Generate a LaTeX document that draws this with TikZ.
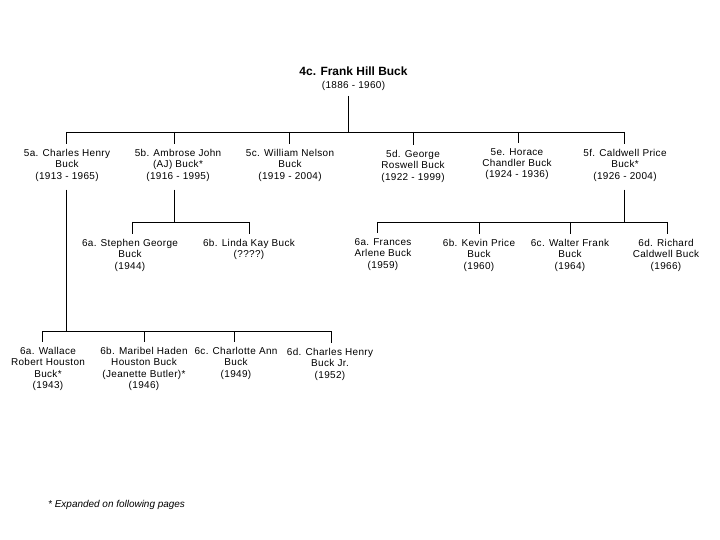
\documentclass[tikz,border=0pt]{standalone}
\usepackage{fontspec}
\setmainfont{Liberation Sans}
\newfontfamily\spacedfont[LetterSpace=3.5]{Liberation Sans}
\begin{document}
\begin{tikzpicture}[x=1bp,y=-1bp,
  person/.style={font=\spacedfont\fontsize{10}{11.5}\selectfont, align=center, inner xsep=0pt, inner ysep=5pt, anchor=north},
  link/.style={draw=black, line width=0.8pt}]
\useasboundingbox (0,0) rectangle (720,540);
% title
\node[font=\fontsize{12}{14}\selectfont\bfseries, inner sep=0pt] (t) at (353.5,71) {4c. Frank Hill Buck};
\node[font=\spacedfont\fontsize{10}{12}\selectfont, inner sep=0pt] (td) at (353.5,86) {(1886 - 1960)};
% generation 5
\node[person] (n5a) at (67,144) {5a. Charles Henry\\Buck\\(1913 - 1965)};
\node[person] (n5b) at (178,144) {5b. Ambrose John\\(AJ) Buck*\\(1916 - 1995)};
\node[person] (n5c) at (290,144) {5c. William Nelson\\Buck\\(1919 - 2004)};
\node[person] (n5d) at (413,145) {5d. George\\Roswell Buck\\(1922 - 1999)};
\node[person] (n5e) at (517,143) {5e. Horace\\Chandler Buck\\(1924 - 1936)};
\node[person] (n5f) at (625,144) {5f. Caldwell Price\\Buck*\\(1926 - 2004)};
% generation 6 under 5b
\node[person] (s6a) at (130,234) {6a. Stephen George\\Buck\\(1944)};
\node[person] (s6b) at (249,234) {6b. Linda Kay Buck\\(????)};
% generation 6 under 5f
\node[person] (p6a) at (383,233) {6a. Frances\\Arlene Buck\\(1959)};
\node[person] (p6b) at (479,234) {6b. Kevin Price\\Buck\\(1960)};
\node[person] (p6c) at (570,234) {6c. Walter Frank\\Buck\\(1964)};
\node[person] (p6d) at (666,234) {6d. Richard\\Caldwell Buck\\(1966)};
% generation 6 under 5a
\node[person] (w6a) at (48,342) {6a. Wallace\\Robert Houston\\Buck*\\(1943)};
\node[person] (w6b) at (144,342) {6b. Maribel Haden\\Houston Buck\\(Jeanette Butler)*\\(1946)};
\node[person] (w6c) at (236,342) {6c. Charlotte Ann\\Buck\\(1949)};
\node[person] (w6d) at (330,343) {6d. Charles Henry\\Buck Jr.\\(1952)};
% footnote
\node[font=\fontsize{10}{12}\selectfont\itshape, anchor=west, inner sep=0pt] (fn) at (48,505) {* Expanded on following pages};
% junction coordinates
\coordinate (j0) at (348,96);
\coordinate (b0) at (348,132);
\coordinate (d5a) at (66,132);
\coordinate (d5b) at (174,132);
\coordinate (d5c) at (289,132);
\coordinate (d5d) at (413,132);
\coordinate (d5e) at (518,132);
\coordinate (d5f) at (624,132);
\coordinate (k5a) at (66,331);
\coordinate (k5b) at (174,222);
\coordinate (k5f) at (624,222);
\coordinate (e6a) at (132,222);
\coordinate (e6b) at (249,222);
\coordinate (f6a) at (377,222);
\coordinate (f6b) at (479,222);
\coordinate (f6c) at (570,222);
\coordinate (f6d) at (667,222);
\coordinate (g6a) at (42,331);
\coordinate (g6b) at (144,331);
\coordinate (g6c) at (234,331);
\coordinate (g6d) at (331,331);
% title to generation 5
\draw[link] (j0) -- (b0);
\draw[link] (d5a) -- (d5f);
\foreach \d/\n in {d5a/n5a,d5b/n5b,d5c/n5c,d5d/n5d,d5e/n5e,d5f/n5f}
  \draw[link] (\d) -- (\d |- \n.north);
% 5b family
\draw[link] ([yshift=-3pt]n5b.south -| k5b) -- (k5b);
\draw[link] (e6a) -- (e6b);
\draw[link] (e6a) -- (e6a |- s6a.north);
\draw[link] (e6b) -- (e6b |- s6b.north);
% 5f family
\draw[link] ([yshift=-3pt]n5f.south -| k5f) -- (k5f);
\draw[link] (f6a) -- (f6d);
\foreach \d/\n in {f6a/p6a,f6b/p6b,f6c/p6c,f6d/p6d}
  \draw[link] (\d) -- (\d |- \n.north);
% 5a family
\draw[link] ([yshift=-3pt]n5a.south -| k5a) -- (k5a);
\draw[link] (g6a) -- (g6d);
\foreach \d/\n in {g6a/w6a,g6b/w6b,g6c/w6c,g6d/w6d}
  \draw[link] (\d) -- (\d |- \n.north);
\end{tikzpicture}
\end{document}
